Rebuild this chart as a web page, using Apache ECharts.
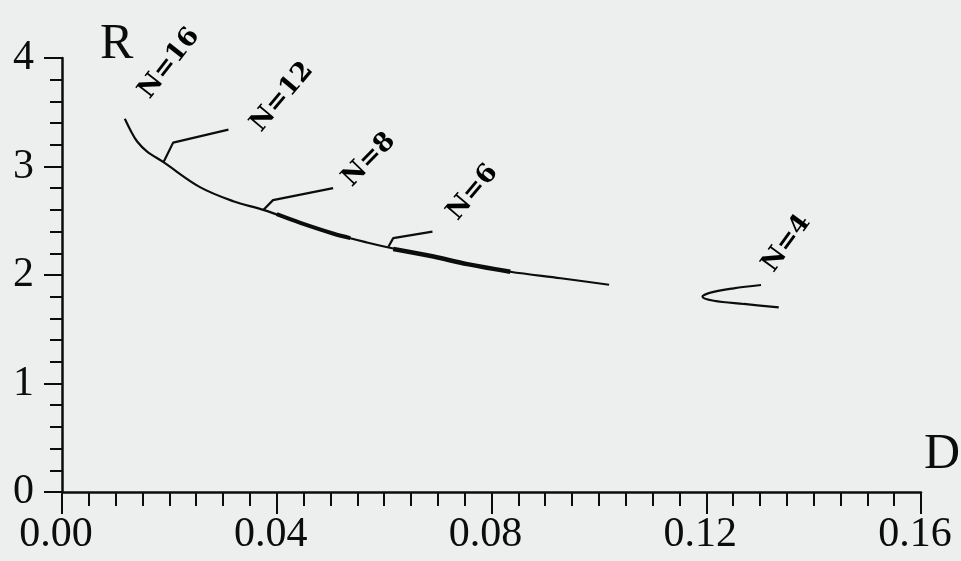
<!DOCTYPE html>
<html>
<head>
<meta charset="utf-8">
<script src="https://cdn.jsdelivr.net/npm/echarts@6/dist/echarts.min.js"></script>
<style>
  html, body { margin: 0; padding: 0; background: #edefee; }
  #chart { width: 961px; height: 561px; }
</style>
</head>
<body>
<div id="chart"></div>
<script>
// Main branch R(D): the N=16 curve running down to the right
const mainD = [0.0117, 0.0128, 0.0140, 0.0158, 0.0189, 0.0257, 0.0319, 0.0375, 0.0444, 0.0506, 0.0568, 0.0630, 0.0692, 0.0755, 0.0835, 0.0929, 0.1019];
const mainR = [3.44, 3.33, 3.23, 3.14, 3.04, 2.81, 2.68, 2.60, 2.48, 2.38, 2.30, 2.23, 2.17, 2.10, 2.03, 1.97, 1.91];

// Stretches where the N=8 and N=6 solutions lie on top of the main branch
const n8OverlapD = [0.0400, 0.0444, 0.0506, 0.0537];
const n8OverlapR = [2.56, 2.48, 2.38, 2.34];
const n6OverlapD = [0.0617, 0.0692, 0.0755, 0.0835];
const n6OverlapR = [2.24, 2.17, 2.10, 2.03];

// Side branches leaving the main curve
const n12BranchD = [0.0189, 0.0207, 0.0310];
const n12BranchR = [3.04, 3.22, 3.34];
const n8BranchD = [0.0375, 0.0393, 0.0505];
const n8BranchR = [2.60, 2.69, 2.80];
const n6BranchD = [0.0608, 0.0617, 0.0690];
const n6BranchR = [2.26, 2.34, 2.40];

// Isolated N=4 fold
const n4D = [0.1302, 0.1251, 0.1208, 0.1193, 0.1214, 0.1270, 0.1335];
const n4R = [1.908, 1.877, 1.837, 1.800, 1.763, 1.733, 1.702];

// Curve labels
const labelText = ['N=16', 'N=12', 'N=8', 'N=6', 'N=4'];
const labelD = [0.0200, 0.0410, 0.0572, 0.0765, 0.1350];
const labelR = [3.95, 3.64, 3.06, 2.76, 2.29];
const labelAngle = [52, 50, 46, 50, 54];

// Axis ticks
const xTicks = [0.00, 0.04, 0.08, 0.12, 0.16];
const yTicks = [0, 1, 2, 3, 4];

const pairs = (xs, ys) => xs.map((x, i) => [x, ys[i]]);

const ink = '#0c0c0c';
const lineSeries = (name, xs, ys, width) => ({
  name, type: 'line', data: pairs(xs, ys), smooth: 0.35,
  symbol: 'none', lineStyle: { color: ink, width },
  silent: true, animation: false
});

const chart = echarts.init(document.getElementById('chart'));
chart.setOption({
  backgroundColor: '#edefee',
  animation: false,
  grid: { left: 62, right: 40, top: 58, bottom: 69, outerBoundsMode: 'none', containLabel: false },
  xAxis: {
    type: 'value', min: xTicks[0], max: xTicks[xTicks.length - 1], interval: 0.04,
    axisLine: { onZero: false, lineStyle: { color: ink, width: 2.5 } },
    axisTick: { inside: false, length: 22, lineStyle: { color: ink, width: 2 } },
    minorTick: { show: true, splitNumber: 8, length: 14, lineStyle: { color: ink, width: 2 } },
    splitLine: { show: false },
    axisLabel: {
      color: ink, fontFamily: 'Liberation Serif', fontSize: 42, margin: 22,
      padding: [0, 12, 0, 0],
      formatter: v => v.toFixed(2)
    },
    name: 'D', nameLocation: 'end',
    nameTextStyle: { color: ink, fontFamily: 'Liberation Serif', fontSize: 50, align: 'right', verticalAlign: 'bottom', padding: [0, -24, 12, 0] }
  },
  yAxis: {
    type: 'value', min: yTicks[0], max: yTicks[yTicks.length - 1], interval: 1,
    axisLine: { onZero: false, lineStyle: { color: ink, width: 2.5 } },
    axisTick: { inside: false, length: 18, lineStyle: { color: ink, width: 2 } },
    minorTick: { show: true, splitNumber: 5, length: 12, lineStyle: { color: ink, width: 2 } },
    splitLine: { show: false },
    axisLabel: { color: ink, fontFamily: 'Liberation Serif', fontSize: 42, margin: 28, padding: [8, 0, 0, 0] },
    name: 'R', nameLocation: 'end', nameGap: 0,
    nameTextStyle: { color: ink, fontFamily: 'Liberation Serif', fontSize: 50, align: 'left', verticalAlign: 'top', padding: [-38, 0, 0, 38] }
  },
  series: [
    lineSeries('main', mainD, mainR, 2.2),
    lineSeries('N=8 overlap', n8OverlapD, n8OverlapR, 4),
    lineSeries('N=6 overlap', n6OverlapD, n6OverlapR, 4.5),
    { ...lineSeries('N=12 branch', n12BranchD, n12BranchR, 2.2), smooth: false },
    { ...lineSeries('N=8 branch', n8BranchD, n8BranchR, 2.2), smooth: false },
    { ...lineSeries('N=6 branch', n6BranchD, n6BranchR, 2.2), smooth: false },
    lineSeries('N=4', n4D, n4R, 2.2),
    {
      name: 'labels', type: 'scatter', symbolSize: 0, silent: true,
      data: labelText.map((t, i) => ({ value: [labelD[i], labelR[i]], name: t })),
      itemStyle: { opacity: 1 },
      label: {
        show: true, position: 'inside', color: '#000', opacity: 1,
        textBorderWidth: 0,
        fontFamily: 'DejaVu Serif', fontWeight: 'bold', fontSize: 26,
        formatter: p => p.name
      },
      labelLayout: p => ({ rotate: labelAngle[p.dataIndex] })
    }
  ]
});
</script>
</body>
</html>
